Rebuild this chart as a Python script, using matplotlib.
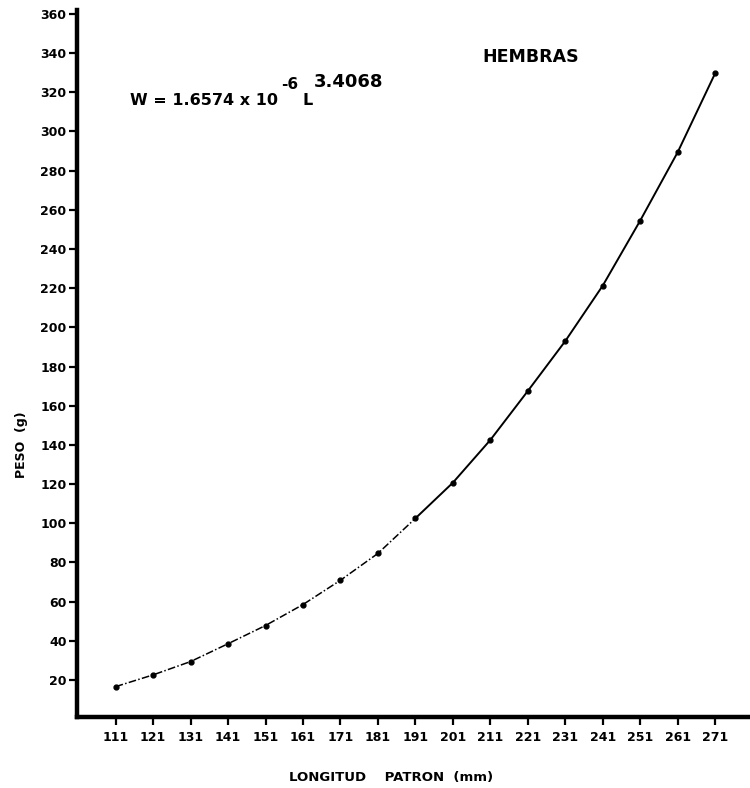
import numpy as np
import matplotlib
matplotlib.use('Agg')
import matplotlib.pyplot as plt

# longitud patron (mm) y peso (g)
longitud = [111, 121, 131, 141, 151, 161, 171, 181, 191,
            201, 211, 221, 231, 241, 251, 261, 271]
peso = [16.6, 22.6, 29.4, 38.5, 47.8, 58.5, 70.9, 84.6, 102.5,
        120.7, 142.5, 167.5, 193.0, 221.3, 254.5, 289.4, 329.7]
yticks = list(range(20, 361, 20))

plt.rcParams['font.family'] = 'DejaVu Sans'
plt.rcParams['font.weight'] = 'bold'

fig = plt.figure(figsize=(7.5, 7.88), dpi=100)
ax = fig.add_axes([0.1027, 0.0901, 0.8973, 0.8972])

# tramo inferior con trazo discontinuo, tramo superior continuo
ax.plot(longitud[:9], peso[:9], color='black', lw=1.1, linestyle=(0, (5, 1.5, 1, 1.5)))
ax.plot(longitud[8:], peso[8:], color='black', lw=1.4)
ax.plot(longitud, peso, 'o', color='black', ms=3.5)

ax.set_xlim(100.7, 280.3)
ax.set_ylim(1.1, 362)
ax.set_xticks(longitud)
ax.set_xticklabels([str(v) for v in longitud])
ax.set_yticks(yticks)
ax.set_yticklabels([str(v) for v in yticks])

for s in ['top', 'right']:
    ax.spines[s].set_visible(False)
for s in ['left', 'bottom']:
    ax.spines[s].set_linewidth(3.2)
    ax.spines[s].set_capstyle('projecting')

ax.tick_params(axis='y', length=6, width=1.6, pad=1.5, labelsize=9)
ax.tick_params(axis='x', length=6, width=1.6, pad=4, labelsize=9)
for lab in ax.get_xticklabels() + ax.get_yticklabels():
    lab.set_fontweight('bold')

fig.text(21 / 750, 1 - 445 / 788, 'PESO  (g)', rotation=90, ha='center', va='center',
         fontsize=9, fontweight='bold')
fig.text(391 / 750, 1 - 778 / 788, 'LONGITUD    PATRON  (mm)', ha='center', va='center',
         fontsize=9.5, fontweight='bold')
fig.text(531 / 750, 1 - 57 / 788, 'HEMBRAS', ha='center', va='center',
         fontsize=12.5, fontweight='bold')

# ecuacion con exponentes del mismo tamano
fig.text(130 / 750, 1 - 105 / 788, 'W = 1.6574 x 10', ha='left', va='baseline',
         fontsize=11.5, fontweight='bold')
fig.text(281 / 750, 1 - 89 / 788, '-6', ha='left', va='baseline',
         fontsize=11, fontweight='bold')
fig.text(302 / 750, 1 - 105 / 788, 'L', ha='left', va='baseline',
         fontsize=11.5, fontweight='bold')
fig.text(314 / 750, 1 - 87 / 788, '3.4068', ha='left', va='baseline',
         fontsize=13, fontweight='bold')

fig.savefig('out.png', dpi=100)
